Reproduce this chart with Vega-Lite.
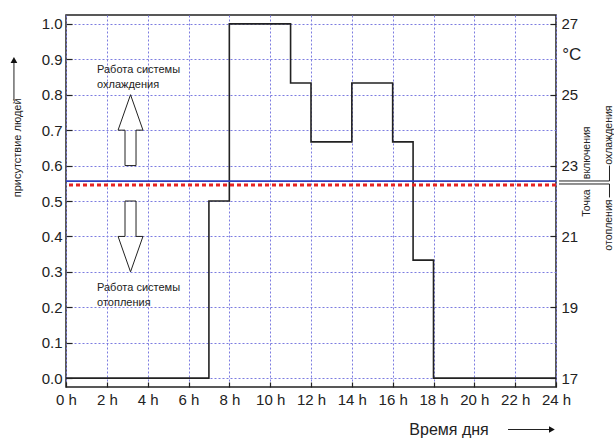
{
  "$schema": "https://vega.github.io/schema/vega-lite/v6.json",
  "width": 490,
  "height": 372,
  "autosize": {"type": "none"},
  "padding": {"left": 66, "top": 15, "right": 58, "bottom": 51},
  "background": "white",
  "config": {
    "view": {"stroke": "#222", "strokeWidth": 1.5},
    "font": "Liberation Sans",
    "axis": {"domain": false, "labelFont": "Liberation Sans", "labelFontSize": 15, "labelColor": "#222", "tickColor": "#222", "tickWidth": 1.2, "title": null, "labelOverlap": false, "labelFlush": false, "labelBound": false},
    "axisY": {"labelOverlap": false},
    "axisLeft": {"labelOverlap": false}
  },
  "resolve": {"scale": {"y": "independent"}},
  "layer": [
    {
      "layer": [
        {
          "data": {"values": [
            {"h": 0, "p": 0}, {"h": 7, "p": 0.5}, {"h": 8, "p": 1.0}, {"h": 11, "p": 0.833},
            {"h": 12, "p": 0.667}, {"h": 14, "p": 0.833}, {"h": 16, "p": 0.667}, {"h": 17, "p": 0.333},
            {"h": 18, "p": 0}, {"h": 24, "p": 0}
          ]},
          "mark": {"type": "line", "interpolate": "step-after", "color": "#222", "strokeWidth": 1.6},
          "encoding": {
            "x": {"field": "h", "type": "quantitative",
              "scale": {"domain": [0, 24], "nice": false, "zero": false},
              "axis": {
                "orient": "bottom",
                "values": [0,1,2,3,4,5,6,7,8,9,10,11,12,13,14,15,16,17,18,19,20,21,22,23,24],
                "labelExpr": "datum.value % 2 == 0 ? datum.value + ' h' : ' '",
                "tickSize": {"condition": {"test": "datum.value % 2 != 0", "value": -3}, "value": -5},
                "labelPadding": 10,
                "grid": true,
                "gridColor": "#7c7ce0",
                "gridDash": [2, 2],
                "gridOpacity": {"condition": {"test": "datum.value % 2 != 0", "value": 0}, "value": 1}
              }},
            "y": {"field": "p", "type": "quantitative",
              "scale": {"domain": [-0.025, 1.025], "nice": false, "zero": false},
              "axis": {"orient": "left", "values": [0,0.1,0.2,0.3,0.4,0.5,0.6,0.7,0.8,0.9,1.0], "format": ".1f", "labelOverlap": false, "tickSize": -6, "labelPadding": 10, "grid": true, "gridColor": "#7c7ce0", "gridDash": [2, 2]}}
          }
        },
        {
          "data": {"values": [
            {"g": "up", "o": 1, "x": 3.16, "y": 0.80}, {"g": "up", "o": 2, "x": 3.77, "y": 0.70},
            {"g": "up", "o": 3, "x": 3.43, "y": 0.70}, {"g": "up", "o": 4, "x": 3.43, "y": 0.60},
            {"g": "up", "o": 5, "x": 2.89, "y": 0.60}, {"g": "up", "o": 6, "x": 2.89, "y": 0.70},
            {"g": "up", "o": 7, "x": 2.55, "y": 0.70}, {"g": "up", "o": 8, "x": 3.16, "y": 0.80},
            {"g": "down", "o": 1, "x": 2.89, "y": 0.50}, {"g": "down", "o": 2, "x": 3.43, "y": 0.50},
            {"g": "down", "o": 3, "x": 3.43, "y": 0.40}, {"g": "down", "o": 4, "x": 3.77, "y": 0.40},
            {"g": "down", "o": 5, "x": 3.16, "y": 0.30}, {"g": "down", "o": 6, "x": 2.55, "y": 0.40},
            {"g": "down", "o": 7, "x": 2.89, "y": 0.40}, {"g": "down", "o": 8, "x": 2.89, "y": 0.50},
            {"g": "b1", "o": 1, "x": 24.15, "y": 0.5565}, {"g": "b1", "o": 2, "x": 26.62, "y": 0.5565}, {"g": "b1", "o": 3, "x": 26.62, "y": 0.60},
            {"g": "b2", "o": 1, "x": 24.15, "y": 0.548}, {"g": "b2", "o": 2, "x": 26.62, "y": 0.548}, {"g": "b2", "o": 3, "x": 26.62, "y": 0.51},
            {"g": "a1", "o": 1, "x": -2.55, "y": 0.785}, {"g": "a1", "o": 2, "x": -2.55, "y": 0.90},
            {"g": "a2", "o": 1, "x": 21.65, "y": -0.145}, {"g": "a2", "o": 2, "x": 23.75, "y": -0.145}
          ]},
          "mark": {"type": "line", "color": "#222", "strokeWidth": 1, "clip": false},
          "encoding": {
            "x": {"field": "x", "type": "quantitative"},
            "y": {"field": "y", "type": "quantitative",
              "axis": {"orient": "left", "values": [0,0.1,0.2,0.3,0.4,0.5,0.6,0.7,0.8,0.9,1.0], "format": ".1f", "labelOverlap": false, "tickSize": -6, "labelPadding": 10, "grid": true, "gridColor": "#7c7ce0", "gridDash": [2, 2]}},
            "detail": {"field": "g"},
            "order": {"field": "o"}
          }
        },
        {
          "data": {"values": [{"x": -2.55, "y": 0.898}]},
          "mark": {"type": "point", "filled": true, "color": "#111", "size": 45, "opacity": 1, "clip": false, "shape": "triangle-up"},
          "encoding": {
            "x": {"field": "x", "type": "quantitative"},
            "y": {"field": "y", "type": "quantitative",
              "axis": {"orient": "left", "values": [0,0.1,0.2,0.3,0.4,0.5,0.6,0.7,0.8,0.9,1.0], "format": ".1f", "labelOverlap": false, "tickSize": -6, "labelPadding": 10, "grid": true, "gridColor": "#7c7ce0", "gridDash": [2, 2]}}
          }
        },
        {
          "data": {"values": [{"x": 23.8, "y": -0.145}]},
          "mark": {"type": "point", "filled": true, "color": "#111", "size": 45, "opacity": 1, "clip": false, "shape": "triangle-right"},
          "encoding": {
            "x": {"field": "x", "type": "quantitative"},
            "y": {"field": "y", "type": "quantitative",
              "axis": {"orient": "left", "values": [0,0.1,0.2,0.3,0.4,0.5,0.6,0.7,0.8,0.9,1.0], "format": ".1f", "labelOverlap": false, "tickSize": -6, "labelPadding": 10, "grid": true, "gridColor": "#7c7ce0", "gridDash": [2, 2]}}
          }
        },
        {
          "data": {"values": [
            {"x": 1.52, "y": 0.887, "t": "Работа системы\nохлаждения"},
            {"x": 1.52, "y": 0.271, "t": "Работа системы\nотопления"}
          ]},
          "mark": {"type": "text", "align": "left", "baseline": "top", "fontSize": 11, "lineBreak": "\n", "lineHeight": 15, "color": "#222", "clip": false},
          "encoding": {
            "x": {"field": "x", "type": "quantitative"},
            "y": {"field": "y", "type": "quantitative",
              "axis": {"orient": "left", "values": [0,0.1,0.2,0.3,0.4,0.5,0.6,0.7,0.8,0.9,1.0], "format": ".1f", "labelOverlap": false, "tickSize": -6, "labelPadding": 10, "grid": true, "gridColor": "#7c7ce0", "gridDash": [2, 2]}},
            "text": {"field": "t"}
          }
        },
        {
          "data": {"values": [{"x": 18.76, "y": -0.145, "t": "Время дня"}]},
          "mark": {"type": "text", "align": "center", "baseline": "middle", "fontSize": 16, "color": "#222", "clip": false},
          "encoding": {
            "x": {"field": "x", "type": "quantitative"},
            "y": {"field": "y", "type": "quantitative",
              "axis": {"orient": "left", "values": [0,0.1,0.2,0.3,0.4,0.5,0.6,0.7,0.8,0.9,1.0], "format": ".1f", "labelOverlap": false, "tickSize": -6, "labelPadding": 10, "grid": true, "gridColor": "#7c7ce0", "gridDash": [2, 2]}},
            "text": {"field": "t"}
          }
        },
        {
          "data": {"values": [{"x": 24.3, "y": 0.912, "t": "°C"}]},
          "mark": {"type": "text", "align": "left", "baseline": "middle", "fontSize": 17, "color": "#222", "clip": false},
          "encoding": {
            "x": {"field": "x", "type": "quantitative"},
            "y": {"field": "y", "type": "quantitative",
              "axis": {"orient": "left", "values": [0,0.1,0.2,0.3,0.4,0.5,0.6,0.7,0.8,0.9,1.0], "format": ".1f", "labelOverlap": false, "tickSize": -6, "labelPadding": 10, "grid": true, "gridColor": "#7c7ce0", "gridDash": [2, 2]}},
            "text": {"field": "t"}
          }
        },
        {
          "data": {"values": [
            {"x": 25.52, "y": 0.636, "t": "включения"},
            {"x": 25.52, "y": 0.494, "t": "Точка"},
            {"x": 26.62, "y": 0.686, "t": "охлаждения"},
            {"x": 26.62, "y": 0.432, "t": "отопления"}
          ]},
          "mark": {"type": "text", "align": "center", "baseline": "middle", "angle": 270, "fontSize": 10.5, "color": "#222", "clip": false},
          "encoding": {
            "x": {"field": "x", "type": "quantitative"},
            "y": {"field": "y", "type": "quantitative",
              "axis": {"orient": "left", "values": [0,0.1,0.2,0.3,0.4,0.5,0.6,0.7,0.8,0.9,1.0], "format": ".1f", "labelOverlap": false, "tickSize": -6, "labelPadding": 10, "grid": true, "gridColor": "#7c7ce0", "gridDash": [2, 2]}},
            "text": {"field": "t"}
          }
        },
        {
          "data": {"values": [{"x": -2.35, "y": 0.65, "t": "присутствие людей"}]},
          "mark": {"type": "text", "align": "center", "baseline": "middle", "angle": 270, "fontSize": 11, "color": "#222", "clip": false},
          "encoding": {
            "x": {"field": "x", "type": "quantitative"},
            "y": {"field": "y", "type": "quantitative",
              "axis": {"orient": "left", "values": [0,0.1,0.2,0.3,0.4,0.5,0.6,0.7,0.8,0.9,1.0], "format": ".1f", "labelOverlap": false, "tickSize": -6, "labelPadding": 10, "grid": true, "gridColor": "#7c7ce0", "gridDash": [2, 2]}},
            "text": {"field": "t"}
          }
        }
      ]
    },
    {
      "layer": [
        {
          "data": {"values": [{"temp": 22.56}]},
          "mark": {"type": "rule", "color": "#2f3fbf", "strokeWidth": 1.6},
          "encoding": {
            "y": {"field": "temp", "type": "quantitative",
              "scale": {"domain": [16.75, 27.25], "nice": false, "zero": false},
              "axis": {
                "orient": "right",
                "values": [17,19,21,23,25,27],
                "labelOverlap": false,
                "tickSize": -6,
                "labelPadding": 11,
                "grid": false
              }}
          }
        },
        {
          "data": {"values": [{"temp": 22.45}]},
          "mark": {"type": "rule", "color": "#e52222", "strokeWidth": 3, "strokeDash": [4, 3]},
          "encoding": {
            "y": {"field": "temp", "type": "quantitative"}
          }
        }
      ]
    }
  ]
}
